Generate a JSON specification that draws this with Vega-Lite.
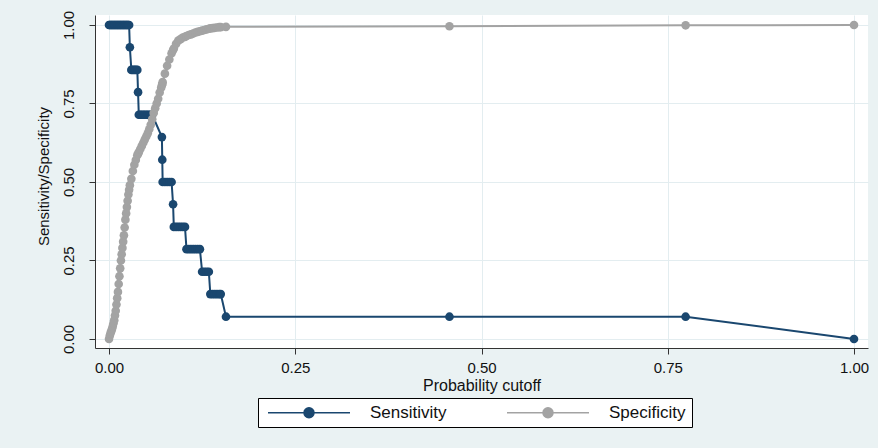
{
  "$schema": "https://vega.github.io/schema/vega-lite/v6.json",
  "width": 773,
  "height": 333,
  "autosize": {"type": "none"},
  "padding": {"left": 95, "top": 15, "right": 10, "bottom": 100},
  "background": "#eaf2f3",
  "config": {
    "view": {"fill": "white", "stroke": null},
    "font": "Liberation Sans",
    "axis": {
      "grid": true,
      "gridColor": "#e3edf0",
      "gridWidth": 1,
      "domainColor": "#333333",
      "domainWidth": 1,
      "tickColor": "#333333",
      "tickSize": 6,
      "labelColor": "#111111",
      "titleColor": "#111111",
      "labelFont": "Liberation Sans",
      "titleFont": "Liberation Sans",
      "titleFontWeight": "normal",
      "labelFlush": false,
      "labelOverlap": false
    }
  },
  "data": {
    "values": [
      {"p": 0.000, "Sensitivity": 1, "Specificity": 0.000},
      {"p": 0.001, "Sensitivity": 1, "Specificity": 0.010},
      {"p": 0.002, "Sensitivity": 1, "Specificity": 0.018},
      {"p": 0.003, "Sensitivity": 1, "Specificity": 0.025},
      {"p": 0.004, "Sensitivity": 1, "Specificity": 0.032},
      {"p": 0.005, "Sensitivity": 1, "Specificity": 0.040},
      {"p": 0.006, "Sensitivity": 1, "Specificity": 0.050},
      {"p": 0.007, "Sensitivity": 1, "Specificity": 0.060},
      {"p": 0.008, "Sensitivity": 1, "Specificity": 0.075},
      {"p": 0.009, "Sensitivity": 1, "Specificity": 0.090},
      {"p": 0.010, "Sensitivity": 1, "Specificity": 0.110},
      {"p": 0.011, "Sensitivity": 1, "Specificity": 0.130},
      {"p": 0.012, "Sensitivity": 1, "Specificity": 0.150},
      {"p": 0.013, "Sensitivity": 1, "Specificity": 0.175},
      {"p": 0.014, "Sensitivity": 1, "Specificity": 0.200},
      {"p": 0.015, "Sensitivity": 1, "Specificity": 0.225},
      {"p": 0.016, "Sensitivity": 1, "Specificity": 0.250},
      {"p": 0.017, "Sensitivity": 1, "Specificity": 0.270},
      {"p": 0.018, "Sensitivity": 1, "Specificity": 0.290},
      {"p": 0.019, "Sensitivity": 1, "Specificity": 0.310},
      {"p": 0.020, "Sensitivity": 1, "Specificity": 0.330},
      {"p": 0.021, "Sensitivity": 1, "Specificity": 0.355},
      {"p": 0.022, "Sensitivity": 1, "Specificity": 0.380},
      {"p": 0.023, "Sensitivity": 1, "Specificity": 0.400},
      {"p": 0.024, "Sensitivity": 1, "Specificity": 0.420},
      {"p": 0.025, "Sensitivity": 1, "Specificity": 0.440},
      {"p": 0.026, "Sensitivity": 1, "Specificity": 0.460},
      {"p": 0.027, "Sensitivity": 1, "Specificity": 0.475},
      {"p": 0.028, "Sensitivity": 0.929, "Specificity": 0.490},
      {"p": 0.030, "Sensitivity": 0.857, "Specificity": 0.510},
      {"p": 0.032, "Sensitivity": 0.857, "Specificity": 0.535},
      {"p": 0.034, "Sensitivity": 0.857, "Specificity": 0.555},
      {"p": 0.036, "Sensitivity": 0.857, "Specificity": 0.570},
      {"p": 0.038, "Sensitivity": 0.857, "Specificity": 0.585},
      {"p": 0.039, "Sensitivity": 0.786, "Specificity": 0.590},
      {"p": 0.040, "Sensitivity": 0.714, "Specificity": 0.595},
      {"p": 0.042, "Sensitivity": 0.714, "Specificity": 0.605},
      {"p": 0.044, "Sensitivity": 0.714, "Specificity": 0.615},
      {"p": 0.046, "Sensitivity": 0.714, "Specificity": 0.625},
      {"p": 0.048, "Sensitivity": 0.714, "Specificity": 0.635},
      {"p": 0.050, "Sensitivity": 0.714, "Specificity": 0.645},
      {"p": 0.052, "Sensitivity": 0.714, "Specificity": 0.655},
      {"p": 0.054, "Sensitivity": 0.714, "Specificity": 0.668},
      {"p": 0.056, "Sensitivity": 0.714, "Specificity": 0.682},
      {"p": 0.058, "Sensitivity": 0.714, "Specificity": 0.700},
      {"p": 0.060, "Specificity": 0.720},
      {"p": 0.062, "Specificity": 0.735},
      {"p": 0.064, "Specificity": 0.750},
      {"p": 0.066, "Specificity": 0.765},
      {"p": 0.068, "Specificity": 0.785},
      {"p": 0.070, "Specificity": 0.800},
      {"p": 0.071, "Sensitivity": 0.643, "Specificity": 0.808},
      {"p": 0.0715, "Sensitivity": 0.571, "Specificity": 0.812},
      {"p": 0.072, "Sensitivity": 0.5, "Specificity": 0.818},
      {"p": 0.075, "Sensitivity": 0.5, "Specificity": 0.845},
      {"p": 0.078, "Sensitivity": 0.5, "Specificity": 0.870},
      {"p": 0.081, "Sensitivity": 0.5, "Specificity": 0.890},
      {"p": 0.084, "Sensitivity": 0.5, "Specificity": 0.910},
      {"p": 0.086, "Sensitivity": 0.429, "Specificity": 0.920},
      {"p": 0.087, "Sensitivity": 0.357, "Specificity": 0.925},
      {"p": 0.090, "Sensitivity": 0.357, "Specificity": 0.940},
      {"p": 0.093, "Sensitivity": 0.357, "Specificity": 0.950},
      {"p": 0.096, "Sensitivity": 0.357, "Specificity": 0.955},
      {"p": 0.099, "Sensitivity": 0.357, "Specificity": 0.960},
      {"p": 0.102, "Sensitivity": 0.357, "Specificity": 0.962},
      {"p": 0.104, "Sensitivity": 0.286, "Specificity": 0.965},
      {"p": 0.107, "Sensitivity": 0.286, "Specificity": 0.968},
      {"p": 0.110, "Sensitivity": 0.286, "Specificity": 0.970},
      {"p": 0.113, "Sensitivity": 0.286, "Specificity": 0.973},
      {"p": 0.116, "Sensitivity": 0.286, "Specificity": 0.976},
      {"p": 0.119, "Sensitivity": 0.286, "Specificity": 0.978},
      {"p": 0.122, "Sensitivity": 0.286, "Specificity": 0.980},
      {"p": 0.125, "Sensitivity": 0.214, "Specificity": 0.982},
      {"p": 0.128, "Sensitivity": 0.214, "Specificity": 0.984},
      {"p": 0.131, "Sensitivity": 0.214, "Specificity": 0.986},
      {"p": 0.134, "Sensitivity": 0.214, "Specificity": 0.988},
      {"p": 0.136, "Sensitivity": 0.143, "Specificity": 0.989},
      {"p": 0.139, "Sensitivity": 0.143, "Specificity": 0.990},
      {"p": 0.142, "Sensitivity": 0.143, "Specificity": 0.991},
      {"p": 0.145, "Sensitivity": 0.143, "Specificity": 0.992},
      {"p": 0.148, "Sensitivity": 0.143, "Specificity": 0.993},
      {"p": 0.150, "Sensitivity": 0.143, "Specificity": 0.993},
      {"p": 0.157, "Sensitivity": 0.071, "Specificity": 0.994},
      {"p": 0.457, "Sensitivity": 0.071, "Specificity": 0.996},
      {"p": 0.774, "Sensitivity": 0.071, "Specificity": 0.999},
      {"p": 1.000, "Sensitivity": 0.0, "Specificity": 1.0}
    ]
  },
  "transform": [
    {"fold": ["Sensitivity", "Specificity"], "as": ["series", "value"]},
    {"filter": "isValid(datum.value)"}
  ],
  "mark": {
    "type": "line",
    "strokeWidth": 2,
    "point": {"filled": true, "size": 75, "opacity": 1}
  },
  "encoding": {
    "x": {
      "field": "p",
      "type": "quantitative",
      "scale": {"domain": [-0.0188, 1.0188], "nice": false, "zero": false},
      "axis": {
        "values": [0, 0.25, 0.5, 0.75, 1],
        "format": ".2f",
        "title": "Probability cutoff",
        "labelFontSize": 15,
        "labelBaseline": "alphabetic",
        "labelPadding": 18,
        "titleFontSize": 16,
        "titleBaseline": "alphabetic",
        "titleY": 42
      }
    },
    "y": {
      "field": "value",
      "type": "quantitative",
      "scale": {"domain": [-0.0287, 1.0318], "nice": false, "zero": false},
      "axis": {
        "values": [0, 0.25, 0.5, 0.75, 1],
        "format": ".2f",
        "title": "Sensitivity/Specificity",
        "labelAngle": -90,
        "labelAlign": "center",
        "labelBaseline": "alphabetic",
        "labelPadding": 16,
        "labelFontSize": 15,
        "titleFontSize": 15,
        "titleAngle": -90,
        "titleAlign": "center",
        "titleBaseline": "alphabetic",
        "titleX": -47,
        "titleY": 161
      }
    },
    "order": {"field": "p", "type": "quantitative"},
    "color": {
      "field": "series",
      "type": "nominal",
      "scale": {"domain": ["Sensitivity", "Specificity"], "range": ["#1a476f", "#a3a3a3"]},
      "legend": {
        "title": null,
        "orient": "none",
        "legendX": 163,
        "legendY": 383,
        "direction": "horizontal",
        "strokeColor": "#000000",
        "fillColor": "#ffffff",
        "padding": 6,
        "symbolType": "M-8.2,0L8.2,0M-1,0A1,1,0,1,0,1,0A1,1,0,1,0,-1,0Z",
        "symbolSize": 100,
        "symbolStrokeWidth": 1.5,
        "symbolOffset": 36.5,
        "labelOffset": 52.5,
        "columnPadding": 56,
        "labelFontSize": 17,
        "labelFont": "Liberation Sans",
        "labelColor": "#111111",
        "labelLimit": 0,
        "encode": {
          "symbols": {
            "update": {
              "fill": {"scale": "color", "field": "value"},
              "stroke": {"scale": "color", "field": "value"},
              "opacity": {"value": 1}
            }
          }
        }
      }
    }
  }
}
